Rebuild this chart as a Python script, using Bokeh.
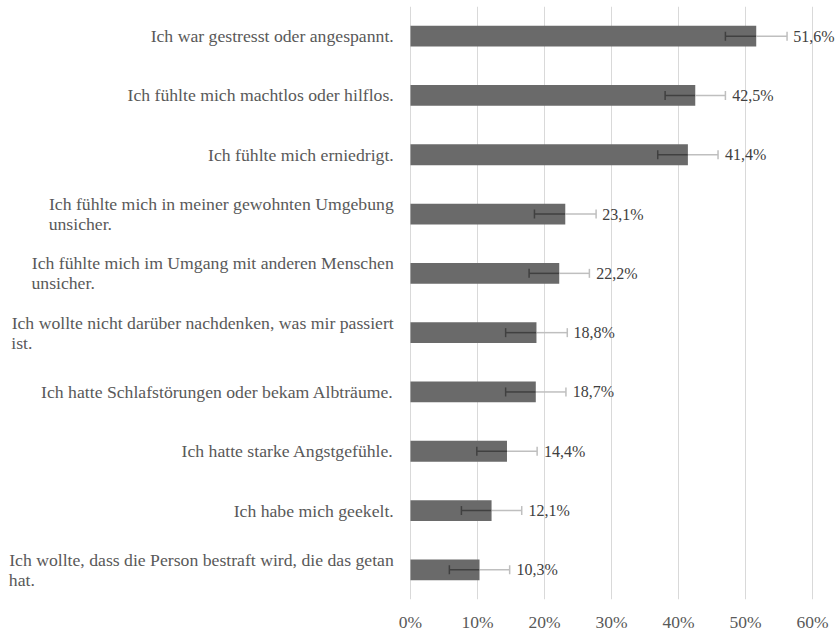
from bokeh.plotting import figure
from bokeh.models import Range1d, FixedTicker, ColumnDataSource
from bokeh.core.properties import value
from bokeh.embed import file_html
from bokeh.resources import INLINE

categories = [
    "Ich war gestresst oder angespannt.",
    "Ich fühlte mich machtlos oder hilflos.",
    "Ich fühlte mich erniedrigt.",
    "Ich fühlte mich in meiner gewohnten Umgebung\nunsicher.",
    "Ich fühlte mich im Umgang mit anderen Menschen\nunsicher.",
    "Ich wollte nicht darüber nachdenken, was mir passiert\nist.",
    "Ich hatte Schlafstörungen oder bekam Albträume.",
    "Ich hatte starke Angstgefühle.",
    "Ich habe mich geekelt.",
    "Ich wollte, dass die Person bestraft wird, die das getan\nhat.",
]
values = [51.6, 42.5, 41.4, 23.1, 22.2, 18.8, 18.7, 14.4, 12.1, 10.3]
errors = [4.6, 4.5, 4.5, 4.6, 4.5, 4.6, 4.5, 4.5, 4.5, 4.5]
tick_values = [0, 10, 20, 30, 40, 50, 60]
tick_labels = ["0%", "10%", "20%", "30%", "40%", "50%", "60%"]

FONT = "Liberation Serif"
LABEL_PX = 17.7
CAP = 0.076  # half cap height in category units

# Times / Liberation Serif advance widths (1/1000 em)
CW = {' ': 250, ',': 250, '.': 250, 'a': 444, 'b': 500, 'c': 444, 'd': 500, 'e': 444,
      'f': 333, 'g': 500, 'h': 500, 'i': 278, 'k': 500, 'l': 278, 'm': 778, 'n': 500,
      'o': 500, 'p': 500, 'r': 333, 's': 389, 't': 278, 'u': 500, 'w': 722, 'ü': 500,
      'ä': 444, 'ö': 500, 'I': 333, 'U': 722, 'M': 889, 'P': 556, 'S': 556, 'A': 722}


def text_width(s):
    return sum(CW.get(c, 500) for c in s) / 1000.0 * LABEL_PX


idx = list(range(len(categories)))
first = [c.split("\n")[0] for c in categories]
has2 = ["\n" in c for c in categories]
y_first_off = [-10 if h else 0 for h in has2]
sec_idx = [i for i in idx if has2[i]]
sec_text = [categories[i].split("\n")[1] for i in sec_idx]
sec_off = [-text_width(first[i]) for i in sec_idx]

p = figure(width=835, height=634, x_range=Range1d(-61.19, 63.43), y_range=Range1d(9.5, -0.5),
           output_backend="svg", toolbar_location=None,
           min_border_left=0, min_border_right=0, min_border_top=6, min_border_bottom=32)
p.outline_line_color = None
p.background_fill_color = "white"
p.border_fill_color = "white"
p.yaxis.visible = False
p.ygrid.visible = False

p.xaxis.ticker = FixedTicker(ticks=tick_values)
p.xgrid.ticker = FixedTicker(ticks=tick_values)
p.xgrid.grid_line_color = "#d9d9d9"
p.xgrid.grid_line_width = 1
p.xaxis.major_label_overrides = {v: l for v, l in zip(tick_values, tick_labels)}
p.xaxis.axis_line_color = None
p.xaxis.major_tick_line_color = None
p.xaxis.minor_tick_line_color = None
p.xaxis.major_tick_out = 0
p.xaxis.major_tick_in = 0
p.xaxis.major_label_standoff = 12
p.xaxis.major_label_text_font = FONT
p.xaxis.major_label_text_font_size = "17.5px"
p.xaxis.major_label_text_color = "#595959"

lo = [v - e for v, e in zip(values, errors)]
hi = [v + e for v, e in zip(values, errors)]
src = ColumnDataSource(dict(
    y=idx, v=values, lo=lo, hi=hi,
    ya=[i - CAP for i in idx], yb=[i + CAP for i in idx],
    lab=[f"{v:.1f}".replace(".", ",") + "%" for v in values],
    first=first, yoff=y_first_off,
))

p.hbar(y="y", right="v", left=0, height=0.35, source=src, fill_color="#6a6a6a", line_color=None)

# lower half of the error bar (over the bar, dark)
p.segment(x0="lo", y0="y", x1="v", y1="y", source=src, line_color="#404040", line_width=1.5)
p.segment(x0="lo", y0="ya", x1="lo", y1="yb", source=src, line_color="#404040", line_width=1.5)
# upper half (light)
p.segment(x0="v", y0="y", x1="hi", y1="y", source=src, line_color="#bfbfbf", line_width=1.5)
p.segment(x0="hi", y0="ya", x1="hi", y1="yb", source=src, line_color="#bfbfbf", line_width=1.5)

p.text(x="v", y="y", text="lab", source=src, x_offset=37, text_align="left",
       text_baseline="middle", text_font=value(FONT), text_font_size="16px", text_color="#404040")

p.text(x=-2.5, y="y", text="first", source=src, y_offset="yoff", text_align="right",
       text_baseline="middle", text_font=value(FONT), text_font_size=f"{LABEL_PX}px",
       text_color="#595959")

p.text(x=[-2.5] * len(sec_idx), y=sec_idx, text=sec_text, x_offset=sec_off,
       y_offset=[10] * len(sec_idx), text_align="left", text_baseline="middle",
       text_font=value(FONT), text_font_size=f"{LABEL_PX}px", text_color="#595959")

open("out.html", "w").write(file_html(p, INLINE))
